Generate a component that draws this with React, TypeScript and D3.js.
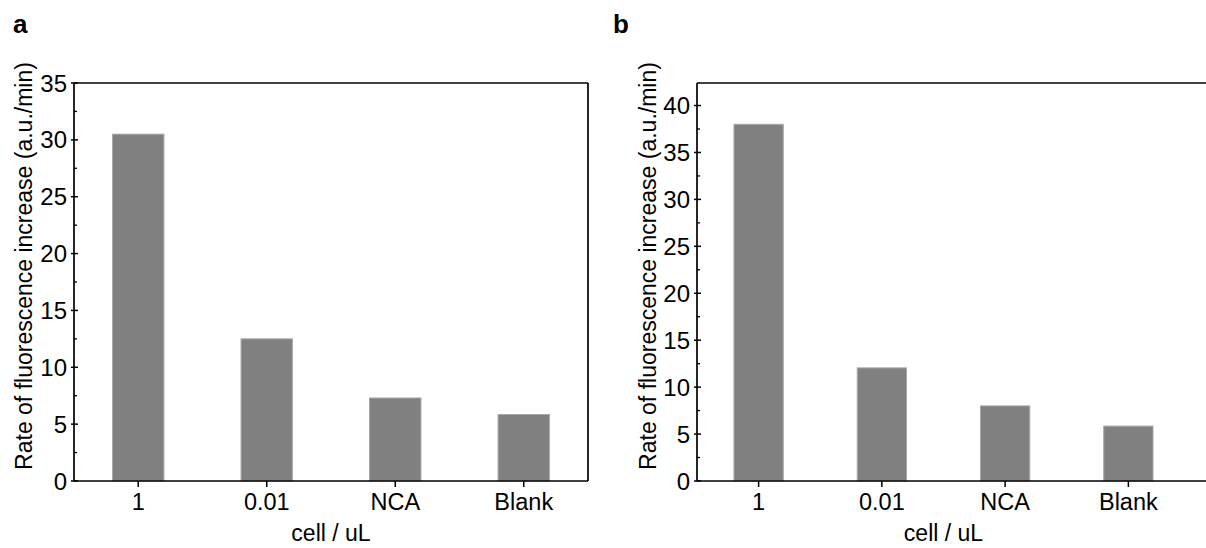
import React from "react";
import * as d3 from "d3";

const categories = ["1", "0.01", "NCA", "Blank"];
const valuesA = [30.5, 12.5, 7.3, 5.85];
const valuesB = [38.0, 12.05, 8.0, 5.85];
const ticksA = [0, 5, 10, 15, 20, 25, 30, 35];
const ticksB = [0, 5, 10, 15, 20, 25, 30, 35, 40];
const yTitle = "Rate of fluorescence increase (a.u./min)";
const xTitle = "cell / uL";

const FONT = "'Liberation Sans', Arial, Helvetica, sans-serif";

type PanelProps = {
  label: string;
  values: number[];
  ticks: number[];
  yMax: number;
  left: number;
  right: number;
  frameRight: number;
  labelX: number;
  titleX: number;
};

function Panel({ label, values, ticks, yMax, left, right, frameRight, labelX, titleX }: PanelProps) {
  const top = 83;
  const bottom = 481;
  const y = d3.scaleLinear().domain([0, yMax]).range([bottom, top]);
  const x = d3
    .scaleBand<string>()
    .domain(categories)
    .range([left, right])
    .paddingInner(0.6)
    .paddingOuter(0.3);
  const minor = ticks.slice(0, -1).map((t) => t + 2.5).filter((t) => t < yMax);
  const cx = (left + right) / 2;
  return (
    <g fontFamily={FONT}>
      <text x={labelX} y={33} fontSize={26} fontWeight="bold" fill="#000">
        {label}
      </text>
      {categories.map((c, i) => (
        <rect
          key={c}
          x={x(c)}
          y={y(values[i])}
          width={x.bandwidth()}
          height={bottom - y(values[i])}
          fill="#808080"
          stroke="#a8a8a8"
          strokeWidth={1}
        />
      ))}
      <line x1={left} x2={frameRight} y1={top} y2={top} stroke="#000" strokeWidth={1.7} />
      <line x1={left} x2={frameRight} y1={bottom} y2={bottom} stroke="#000" strokeWidth={1.7} />
      <line x1={left} x2={left} y1={top} y2={bottom} stroke="#000" strokeWidth={1.7} />
      {frameRight < 1206 && (
        <line x1={frameRight} x2={frameRight} y1={top} y2={bottom} stroke="#000" strokeWidth={1.7} />
      )}
      {ticks.map((t) => (
        <g key={t}>
          <line x1={left - 3} x2={left + 4} y1={y(t)} y2={y(t)} stroke="#000" strokeWidth={1.5} />
          <text
            x={left - 7}
            y={y(t)}
            dy="0.36em"
            textAnchor="end"
            fontSize={24}
            fill="#000"
          >
            {t}
          </text>
        </g>
      ))}
      {minor.map((t) => (
        <line key={"m" + t} x1={left} x2={left + 3} y1={y(t)} y2={y(t)} stroke="#000" strokeWidth={1.3} />
      ))}
      {categories.map((c) => {
        const xc = (x(c) as number) + x.bandwidth() / 2;
        return (
          <g key={"x" + c}>
            <line x1={xc} x2={xc} y1={bottom} y2={bottom + 6} stroke="#000" strokeWidth={1.5} />
            <text x={xc} y={510} textAnchor="middle" fontSize={23.5} fill="#000">
              {c}
            </text>
          </g>
        );
      })}
      <text x={cx} y={541} textAnchor="middle" fontSize={23} fill="#000">
        {xTitle}
      </text>
      <text
        transform={`translate(${titleX},266) rotate(-90)`}
        textAnchor="middle"
        fontSize={23}
        fill="#000"
      >
        {yTitle}
      </text>
    </g>
  );
}

export default function App() {
  return (
    <svg
      width={1206}
      height={548}
      style={{ position: "absolute", left: 0, top: 0, display: "block", background: "#fff" }}
    >
      <rect width={1206} height={548} fill="#fff" />
      <Panel
        label="a"
        values={valuesA}
        ticks={ticksA}
        yMax={35}
        left={74}
        right={588}
        frameRight={588}
        labelX={13}
        titleX={32}
      />
      <Panel
        label="b"
        values={valuesB}
        ticks={ticksB}
        yMax={42.4}
        left={697}
        right={1190}
        frameRight={1215}
        labelX={613}
        titleX={656}
      />
    </svg>
  );
}
